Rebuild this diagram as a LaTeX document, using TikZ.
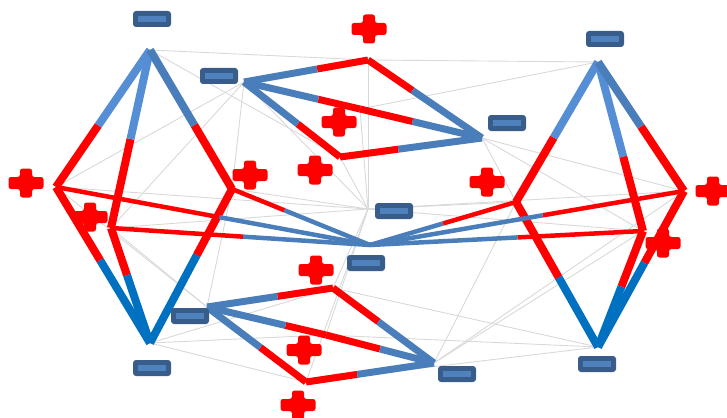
\documentclass[tikz,border=0pt]{standalone}
\usetikzlibrary{calc}
\definecolor{bondred}{HTML}{FF0000}
\definecolor{blueA}{HTML}{558ED5}
\definecolor{blueB}{HTML}{4A7EBB}
\definecolor{blueC}{HTML}{0070C0}
\definecolor{grayline}{HTML}{D9D9D9}
\definecolor{minusdark}{HTML}{385D8A}
\definecolor{minuslight}{HTML}{4F81BD}
\newcommand{\bondline}[5]{%
  \draw[line width=#5, bondred] (#1) -- ($(#1)!#3!(#2)$);
  \draw[line width=#5, #4] ($(#1)!#3!(#2)$) -- (#2);
}
\tikzset{
  thin gray/.style={draw=grayline, line width=0.9pt},
  pluspic/.pic={\fill[bondred, rounded corners=2.5pt]
     (-17.5,-6) -- (-6,-6) -- (-6,-14.5) -- (6,-14.5) -- (6,-6) -- (17.5,-6)
     -- (17.5,6) -- (6,6) -- (6,14.5) -- (-6,14.5) -- (-6,6) -- (-17.5,6) -- cycle;},
  minuspic/.pic={\fill[minusdark, rounded corners=3pt] (-19,-8) rectangle (19,8);
     \fill[minuslight] (-14,-2.6) rectangle (14,2.6);}
}
\begin{document}
\begin{tikzpicture}[x=1pt,y=-1pt]
\useasboundingbox (0,0) rectangle (727,417);
% vertices
\coordinate (A1) at (150,50);
\coordinate (A2) at (56,187);
\coordinate (A3) at (111,228);
\coordinate (A4) at (232,189);
\coordinate (A5) at (150,343);
\coordinate (B1) at (598,62);
\coordinate (B2) at (684,191);
\coordinate (B3) at (643,231);
\coordinate (B4) at (516,202);
\coordinate (B5) at (598,347);
\coordinate (T1) at (244,82);
\coordinate (T2) at (368,60);
\coordinate (X) at (360,109);
\coordinate (T5) at (340,157);
\coordinate (T4) at (482,138);
\coordinate (D1) at (207,307);
\coordinate (D2) at (333,288);
\coordinate (Y) at (326,335);
\coordinate (D5) at (306,382);
\coordinate (D4) at (434,363);
\coordinate (C) at (370,245);
\coordinate (Z) at (368,209);
% thin gray connections
\foreach \a/\b in {A1/T2,T2/B1,A1/T5,X/B1,
  T1/A2,T1/A3,T1/A4,T1/Z,A4/D1,A2/D1,A3/D1,
  Z/A2,Z/A3,Z/A4,Z/T2,Z/X,Z/T5,Z/B2,Z/B3,Z/B4,Z/D2,Z/Y,Z/D5,
  T4/B2,T4/B3,T4/B4,D4/B2,D4/B3,D4/B4,
  A5/D2,A5/Y,A5/D5,B5/D2,B5/Y,B5/D5}
  \draw[thin gray] (\a) -- (\b);
% left cluster
\bondline{A2}{A1}{0.45}{blueA}{8pt}
\bondline{A3}{A1}{0.50}{blueA}{8pt}
\bondline{A4}{A1}{0.46}{blueB}{8pt}
\bondline{A2}{A5}{0.47}{blueC}{8pt}
\bondline{A3}{A5}{0.41}{blueC}{8pt}
\bondline{A4}{A5}{0.43}{blueC}{8pt}
% right cluster
\bondline{B4}{B1}{0.46}{blueA}{8pt}
\bondline{B3}{B1}{0.44}{blueA}{8pt}
\bondline{B2}{B1}{0.50}{blueB}{8pt}
\bondline{B4}{B5}{0.52}{blueC}{8pt}
\bondline{B3}{B5}{0.48}{blueC}{8pt}
\bondline{B2}{B5}{0.46}{blueC}{8pt}
% top cluster
\bondline{T2}{T1}{0.41}{blueB}{7pt}
\bondline{T2}{T4}{0.39}{blueB}{7pt}
\bondline{X}{T1}{0.36}{blueB}{7pt}
\bondline{X}{T4}{0.43}{blueB}{7pt}
\bondline{T5}{T1}{0.44}{blueB}{7pt}
\bondline{T5}{T4}{0.41}{blueB}{7pt}
% bottom cluster
\bondline{D2}{D1}{0.44}{blueB}{7pt}
\bondline{D2}{D4}{0.45}{blueB}{7pt}
\bondline{Y}{D1}{0.34}{blueB}{7pt}
\bondline{Y}{D4}{0.50}{blueB}{7pt}
\bondline{D5}{D1}{0.46}{blueB}{7pt}
\bondline{D5}{D4}{0.40}{blueB}{7pt}
% center bonds
\bondline{A2}{C}{0.52}{blueB}{4.5pt}
\bondline{A3}{C}{0.51}{blueB}{4.5pt}
\bondline{A4}{C}{0.38}{blueB}{4.5pt}
\bondline{B4}{C}{0.50}{blueB}{4.5pt}
\bondline{B2}{C}{0.45}{blueB}{4.5pt}
\bondline{B3}{C}{0.46}{blueB}{4.5pt}
% charges
\pic (mA1) at (152,19) {minuspic};
\pic (mT1) at (219,76) {minuspic};
\pic (mT4) at (507,123) {minuspic};
\pic (mB1) at (605,39) {minuspic};
\pic (mZ) at (394,211) {minuspic};
\pic (mC) at (366,263) {minuspic};
\pic (mD1) at (190,316) {minuspic};
\pic (mA5) at (152,368) {minuspic};
\pic (mD4) at (457,374) {minuspic};
\pic (mB5) at (597,364) {minuspic};
\pic (pT2) at (369,29) {pluspic};
\pic (pX) at (339,122) {pluspic};
\pic (pT5) at (315,170) {pluspic};
\pic (pA4) at (250,175) {pluspic};
\pic (pA2) at (26,183) {pluspic};
\pic (pA3) at (90,217) {pluspic};
\pic (pB4) at (487,182) {pluspic};
\pic (pB2) at (713,191) {pluspic};
\pic (pB3) at (663,243) {pluspic};
\pic (pD2) at (316,270) {pluspic};
\pic (pY) at (304,350) {pluspic};
\pic (pD5) at (298,405) {pluspic};
\end{tikzpicture}
\end{document}
